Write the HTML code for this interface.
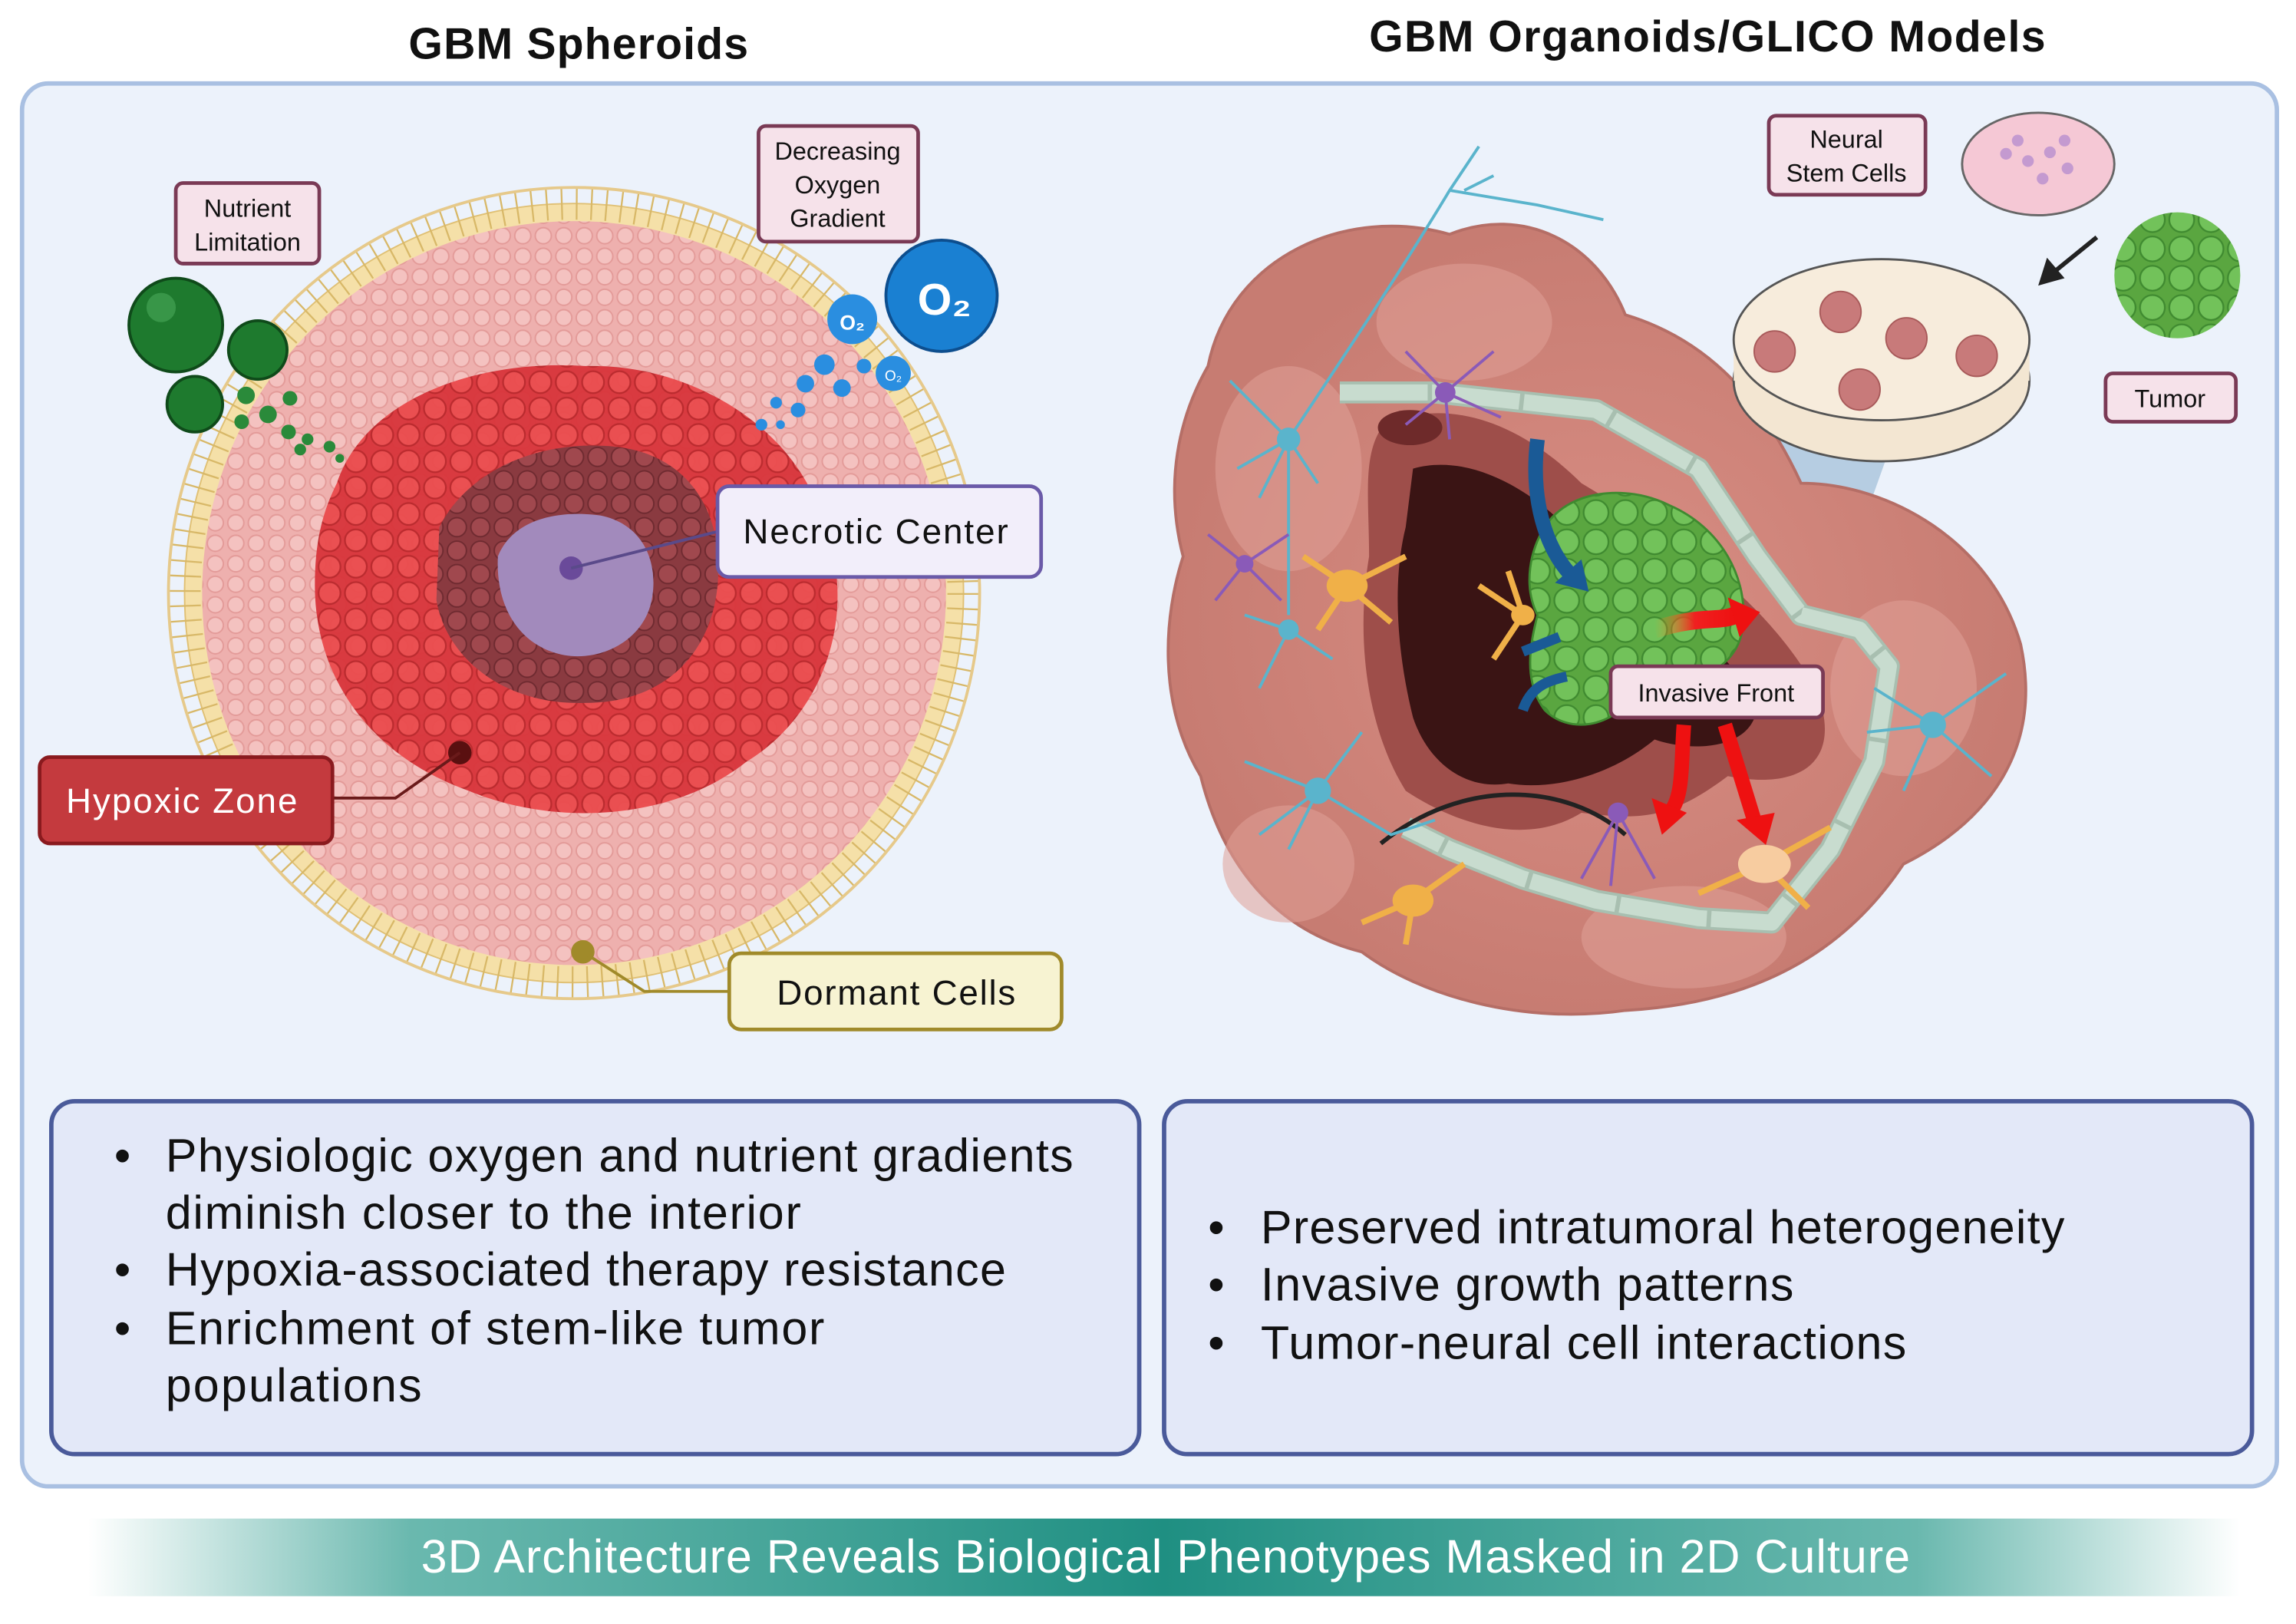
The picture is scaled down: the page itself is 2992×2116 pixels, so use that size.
<!DOCTYPE html>
<html><head><meta charset="utf-8"><style>html,body{margin:0;padding:0;background:#fff}svg{display:block}text{font-family:"Liberation Sans",sans-serif}</style></head>
<body>
<svg width="2992" height="2116" viewBox="0 0 1568 1109" xmlns="http://www.w3.org/2000/svg">
<defs>
<pattern id="cellsP" width="14" height="14" patternUnits="userSpaceOnUse"><rect width="14" height="14" fill="#eeb0ae"/><circle cx="7" cy="7" r="5.5" fill="#f4c2c0" stroke="#e39a98" stroke-width="1"/></pattern>
<pattern id="cellsR" width="18" height="18" patternUnits="userSpaceOnUse"><rect width="18" height="18" fill="#d8343a"/><circle cx="9" cy="9" r="7.5" fill="#ea4a4c" stroke="#b82428" stroke-width="1.2"/></pattern>
<pattern id="cellsD" width="16" height="16" patternUnits="userSpaceOnUse"><rect width="16" height="16" fill="#8a3a40"/><circle cx="8" cy="8" r="6.5" fill="#a0484e" stroke="#6e2a30" stroke-width="1"/></pattern>
<pattern id="cellsG" width="20" height="20" patternUnits="userSpaceOnUse"><rect width="20" height="20" fill="#5aa640"/><circle cx="10" cy="10" r="8.5" fill="#72c25a" stroke="#3f8a30" stroke-width="1.2"/></pattern>
<linearGradient id="ban" x1="0" x2="1"><stop offset="0" stop-color="#2a9a8c" stop-opacity="0"/><stop offset="0.15" stop-color="#2a9a8c" stop-opacity="0.7"/><stop offset="0.5" stop-color="#1f8f82"/><stop offset="0.85" stop-color="#2a9a8c" stop-opacity="0.7"/><stop offset="1" stop-color="#2a9a8c" stop-opacity="0"/></linearGradient>
<radialGradient id="blob"><stop offset="0" stop-color="#d98e84"/><stop offset="1" stop-color="#c77c72"/></radialGradient>
<linearGradient id="redar" x1="0" x2="1"><stop offset="0" stop-color="#f3a020" stop-opacity="0"/><stop offset="0.5" stop-color="#f02020"/><stop offset="1" stop-color="#ee1111"/></linearGradient>
</defs>
<rect width="1568" height="1109" fill="#fff"/>
<text x="395" y="40" font-size="30" font-weight="bold" text-anchor="middle" fill="#111" textLength="232">GBM Spheroids</text>
<text x="1166" y="35" font-size="30" font-weight="bold" text-anchor="middle" fill="#111" textLength="462">GBM Organoids/GLICO Models</text>
<rect x="15" y="57" width="1540" height="958" rx="18" fill="#ecf2fb" stroke="#a9c0e2" stroke-width="3"/>

<!-- Spheroid -->
<circle cx="392" cy="405" r="266" fill="#f5e0a8" stroke="#e0c074" stroke-width="1"/>
<circle cx="392" cy="405" r="266" fill="none" stroke="#d8b868" stroke-width="22" stroke-dasharray="1.2 9"/>
<circle cx="392" cy="405" r="277" fill="none" stroke="#e6c98a" stroke-width="2"/>
<circle cx="392" cy="405" r="254" fill="url(#cellsP)"/>
<path d="M230,330 C250,270 330,245 400,250 C470,248 540,290 560,350 C590,420 560,490 510,520 C460,560 380,565 320,540 C250,515 215,460 215,400 C215,370 220,350 230,330Z" fill="url(#cellsR)" opacity="0.95"/>
<path d="M300,360 C320,320 370,300 420,305 C470,310 495,350 490,400 C485,450 450,480 400,480 C345,482 305,450 298,410Z" fill="url(#cellsD)"/>
<path d="M340,380 C350,355 380,348 410,352 C440,358 450,385 445,410 C440,435 415,450 390,448 C360,445 338,420 340,380Z" fill="#a28abc"/>
<circle cx="390" cy="388" r="8" fill="#6a4a9a"/>
<line x1="390" y1="388" x2="490" y2="363" stroke="#5a4a8a" stroke-width="2"/>
<circle cx="314" cy="514" r="8" fill="#5a1010"/>
<path d="M314,514 L270,545 L227,545" stroke="#6a1a1a" stroke-width="2" fill="none"/>
<circle cx="398" cy="650" r="8" fill="#a08a2a"/>
<path d="M398,650 L440,677 L498,677" stroke="#a08a2a" stroke-width="2" fill="none"/>
<!-- nutrients -->
<circle cx="120" cy="222" r="32" fill="#1e7a2e" stroke="#0f4a1a" stroke-width="2"/>
<circle cx="110" cy="210" r="10" fill="#4aa85a" opacity="0.6"/>
<circle cx="176" cy="239" r="20" fill="#1e7a2e" stroke="#0f4a1a" stroke-width="2"/>
<circle cx="133" cy="276" r="19" fill="#1e7a2e" stroke="#0f4a1a" stroke-width="2"/>
<g fill="#2a8a3a"><circle cx="168" cy="270" r="6"/><circle cx="183" cy="283" r="6"/><circle cx="198" cy="272" r="5"/><circle cx="165" cy="288" r="5"/><circle cx="197" cy="295" r="5"/><circle cx="210" cy="300" r="4"/><circle cx="225" cy="305" r="4"/><circle cx="232" cy="313" r="3"/><circle cx="205" cy="307" r="4"/></g>
<!-- O2 -->
<circle cx="643" cy="202" r="38" fill="#1a80d2" stroke="#0d4e8e" stroke-width="2"/>
<text x="645" y="215" font-size="30" font-weight="bold" fill="#fff" text-anchor="middle">O₂</text>
<circle cx="582" cy="218" r="17" fill="#2a8ee0"/><text x="582" y="225" font-size="14" font-weight="bold" fill="#fff" text-anchor="middle">O₂</text>
<circle cx="610" cy="255" r="12" fill="#2a8ee0"/><text x="610" y="260" font-size="10" fill="#fff" text-anchor="middle">O₂</text>
<g fill="#2a8ee0"><circle cx="563" cy="249" r="7"/><circle cx="575" cy="265" r="6"/><circle cx="550" cy="262" r="6"/><circle cx="545" cy="280" r="5"/><circle cx="530" cy="275" r="4"/><circle cx="520" cy="290" r="4"/><circle cx="533" cy="290" r="3"/><circle cx="590" cy="250" r="5"/></g>
<!-- labels -->
<rect x="120" y="125" width="98" height="55" rx="5" fill="#f6e2ea" stroke="#7a3a55" stroke-width="2.5"/>
<text x="169" y="148" font-size="17" text-anchor="middle" fill="#111">Nutrient</text><text x="169" y="171" font-size="17" text-anchor="middle" fill="#111">Limitation</text>
<rect x="518" y="86" width="109" height="79" rx="5" fill="#f6e2ea" stroke="#7a3a55" stroke-width="2.5"/>
<text x="572" y="109" font-size="17" text-anchor="middle" fill="#111">Decreasing</text><text x="572" y="132" font-size="17" text-anchor="middle" fill="#111">Oxygen</text><text x="572" y="155" font-size="17" text-anchor="middle" fill="#111">Gradient</text>
<rect x="490" y="332" width="221" height="62" rx="8" fill="#f2eefa" stroke="#6a5aa8" stroke-width="2.5"/>
<text x="598" y="371" font-size="24" text-anchor="middle" fill="#111" textLength="181">Necrotic Center</text>
<rect x="27" y="517" width="200" height="59" rx="7" fill="#c43a3e" stroke="#8a1a1e" stroke-width="2.5"/>
<text x="124" y="555" font-size="24" text-anchor="middle" fill="#fff" textLength="158">Hypoxic Zone</text>
<rect x="498" y="651" width="227" height="52" rx="8" fill="#f7f3d2" stroke="#a08a2a" stroke-width="2.5"/>
<text x="612" y="686" font-size="24" text-anchor="middle" fill="#111" textLength="163">Dormant Cells</text>

<!-- Organoid -->
<path d="M1085,235 L1190,290 L1300,280 L1250,420 L1110,400Z" fill="#b6cde2"/>
<path d="M825,250 C840,175 920,140 990,160 C1040,140 1090,165 1110,215 C1160,230 1200,265 1230,330 C1290,330 1360,370 1380,440 C1395,510 1360,560 1300,590 C1260,650 1200,685 1110,690 C1040,700 970,680 930,650 C870,635 835,590 820,530 C790,480 795,420 808,380 C795,330 805,285 825,250Z" fill="url(#blob)" stroke="#b56e66" stroke-width="2"/>
<g fill="#e0a098" opacity="0.55"><ellipse cx="880" cy="320" rx="50" ry="70"/><ellipse cx="1000" cy="220" rx="60" ry="40"/><ellipse cx="1300" cy="470" rx="50" ry="60"/><ellipse cx="1150" cy="640" rx="70" ry="35"/><ellipse cx="880" cy="590" rx="45" ry="40"/></g>
<path d="M945,290 C990,270 1040,290 1080,330 C1130,360 1200,400 1240,470 C1260,520 1230,540 1180,530 C1140,560 1120,560 1080,555 C1040,580 990,560 960,540 C935,500 925,440 935,380 C935,340 930,310 945,290Z" fill="#9e4e4a"/>
<path d="M965,320 C1000,310 1040,330 1070,360 C1120,400 1170,430 1200,480 C1200,510 1160,515 1130,505 C1100,530 1060,540 1030,535 C1000,540 975,520 965,490 C955,450 950,400 960,360Z" fill="#3a1414"/>
<ellipse cx="963" cy="292" rx="22" ry="12" fill="#6e2a2a"/>
<!-- vessel -->
<path d="M915,268 L980,268 L1090,280 L1160,320 L1200,380 L1230,420 L1270,430 L1290,455 L1280,520 L1250,580 L1210,630 L1160,627 L1090,615 L1040,600 L990,580 L960,565" fill="none" stroke="#a8bfb0" stroke-width="15" stroke-linejoin="round"/>
<path d="M915,268 L980,268 L1090,280 L1160,320 L1200,380 L1230,420 L1270,430 L1290,455 L1280,520 L1250,580 L1210,630 L1160,627 L1090,615 L1040,600 L990,580 L960,565" fill="none" stroke="#c8dccf" stroke-width="11" stroke-linejoin="round" stroke-dasharray="60 3"/>
<!-- tumor -->
<path d="M1055,360 C1070,335 1110,330 1140,345 C1175,360 1195,395 1190,430 C1185,460 1150,470 1120,470 C1100,500 1070,500 1055,485 C1040,465 1045,440 1050,420 C1040,400 1045,375 1055,360Z" fill="url(#cellsG)" stroke="#3f8a30" stroke-width="1.5"/>
<!-- arrows -->
<path d="M1050,300 C1045,340 1055,375 1075,395" fill="none" stroke="#1a5a96" stroke-width="10"/>
<path d="M1062,398 L1085,404 L1080,382Z" fill="#1a5a96"/>
<path d="M1040,445 L1065,435" stroke="#1a5a96" stroke-width="7"/><path d="M1040,485 C1045,470 1055,465 1070,462" stroke="#1a5a96" stroke-width="7" fill="none"/>
<path d="M1130,430 C1160,420 1175,425 1185,420" stroke="url(#redar)" stroke-width="12" fill="none"/>
<path d="M1180,408 L1202,418 L1188,435Z" fill="#ee1111"/>
<path d="M1150,495 C1148,520 1150,545 1140,555" stroke="#ee1111" stroke-width="10" fill="none"/>
<path d="M1128,545 L1135,570 L1152,555Z" fill="#ee1111"/>
<path d="M1178,495 L1198,560" stroke="#ee1111" stroke-width="10"/>
<path d="M1186,560 L1206,577 L1212,555Z" fill="#ee1111"/>
<path d="M943,576 C1000,530 1070,535 1110,570" fill="none" stroke="#222" stroke-width="3"/>
<!-- neurons -->
<g stroke="#5ab4cc" stroke-width="2" fill="none">
<path d="M880,300 C920,240 960,180 990,130 L1010,100 M990,130 L1050,140 L1095,150 M1000,130 L1020,120"/>
<path d="M880,300 L840,260 M880,300 L845,320 M880,300 L900,330 M880,300 L860,340"/>
<path d="M880,300 L880,420 M880,430 L850,420 M880,430 L910,450 M880,430 L860,470"/>
<path d="M900,540 L850,520 M900,540 L860,570 M900,540 L880,580 M900,540 L950,570 L980,560 M900,540 L930,500"/>
<path d="M1320,495 L1280,470 M1320,495 L1370,460 M1320,495 L1360,530 M1320,495 L1300,540 M1320,495 L1275,500"/>
</g>
<g fill="#5ab4cc"><circle cx="880" cy="300" r="8"/><circle cx="880" cy="430" r="7"/><circle cx="900" cy="540" r="9"/><circle cx="1320" cy="495" r="9"/></g>
<g stroke="#8a5ab8" stroke-width="2" fill="none"><path d="M987,268 L960,240 M987,268 L1020,240 M987,268 L1025,285 M987,268 L960,290 M987,268 L990,300"/><path d="M850,385 L825,365 M850,385 L880,365 M850,385 L830,410 M850,385 L875,410"/><path d="M1105,555 L1080,600 M1105,555 L1130,600 M1105,555 L1100,605"/></g>
<g fill="#8a5ab8"><circle cx="987" cy="268" r="7"/><circle cx="850" cy="385" r="6"/><circle cx="1105" cy="555" r="7"/></g>
<g stroke="#f0b048" stroke-width="4" fill="none"><path d="M920,400 L890,380 M920,400 L960,380 M920,400 L900,430 M920,400 L950,425"/><path d="M965,615 L930,630 M965,615 L1000,590 M965,615 L960,645"/><path d="M1205,590 L1160,610 M1205,590 L1250,565 M1205,590 L1235,620"/><path d="M1040,420 L1010,400 M1040,420 L1020,450 M1040,420 L1030,390"/></g>
<g fill="#f0b048"><ellipse cx="920" cy="400" rx="14" ry="11"/><ellipse cx="965" cy="615" rx="14" ry="11"/><ellipse cx="1205" cy="590" rx="18" ry="13" fill="#f7cca0"/><ellipse cx="1040" cy="420" rx="8" ry="7"/></g>
<!-- petri -->
<ellipse cx="1285" cy="260" rx="101" ry="55" fill="#f3e6d2" stroke="#555" stroke-width="1.5"/>
<rect x="1184" y="232" width="202" height="28" fill="#f3e6d2"/>
<ellipse cx="1285" cy="232" rx="101" ry="55" fill="#f7ecdc" stroke="#555" stroke-width="1.5"/>
<g fill="#c87a7a" stroke="#a85a5a"><circle cx="1257" cy="213" r="14"/><circle cx="1212" cy="240" r="14"/><circle cx="1302" cy="231" r="14"/><circle cx="1350" cy="243" r="14"/><circle cx="1270" cy="266" r="14"/></g>
<ellipse cx="1392" cy="112" rx="52" ry="35" fill="#f5c8d5" stroke="#666" stroke-width="1.5"/>
<g fill="#c49ad0"><circle cx="1370" cy="105" r="4"/><circle cx="1385" cy="110" r="4"/><circle cx="1400" cy="104" r="4"/><circle cx="1412" cy="115" r="4"/><circle cx="1395" cy="122" r="4"/><circle cx="1378" cy="96" r="4"/><circle cx="1410" cy="96" r="4"/></g>
<circle cx="1487" cy="188" r="43" fill="url(#cellsG)"/>
<path d="M1432,162 L1400,188" stroke="#222" stroke-width="3"/><path d="M1392,195 L1398,176 L1410,190Z" fill="#222"/>
<rect x="1208" y="79" width="107" height="54" rx="5" fill="#f6e2ea" stroke="#7a3a55" stroke-width="2.5"/>
<text x="1261" y="101" font-size="17" text-anchor="middle" fill="#111">Neural</text><text x="1261" y="124" font-size="17" text-anchor="middle" fill="#111">Stem Cells</text>
<rect x="1438" y="255" width="89" height="33" rx="5" fill="#f6e2ea" stroke="#7a3a55" stroke-width="2.5"/>
<text x="1482" y="278" font-size="17" text-anchor="middle" fill="#111">Tumor</text>
<rect x="1100" y="455" width="145" height="35" rx="5" fill="#f6e2ea" stroke="#7a3a55" stroke-width="2.5"/>
<text x="1172" y="479" font-size="17" text-anchor="middle" fill="#111">Invasive Front</text>

<!-- bottom boxes -->
<rect x="35" y="752" width="743" height="241" rx="16" fill="#e3e8f8" stroke="#4a5a9a" stroke-width="3"/>
<rect x="795" y="752" width="743" height="241" rx="16" fill="#e3e8f8" stroke="#4a5a9a" stroke-width="3"/>
<g font-size="32" fill="#111">
<text x="78" y="800">•</text><text x="113" y="800" textLength="620">Physiologic oxygen and nutrient gradients</text>
<text x="113" y="839" textLength="434">diminish closer to the interior</text>
<text x="78" y="878">•</text><text x="113" y="878" textLength="574">Hypoxia-associated therapy resistance</text>
<text x="78" y="918">•</text><text x="113" y="918" textLength="450">Enrichment of stem-like tumor</text>
<text x="113" y="957" textLength="175">populations</text>
<text x="825" y="849">•</text><text x="861" y="849" textLength="549">Preserved intratumoral heterogeneity</text>
<text x="825" y="888">•</text><text x="861" y="888" textLength="364">Invasive growth patterns</text>
<text x="825" y="928">•</text><text x="861" y="928" textLength="441">Tumor-neural cell interactions</text>
</g>
<rect x="60" y="1037" width="1470" height="53" fill="url(#ban)"/>
<text x="796" y="1074" font-size="32" text-anchor="middle" fill="#fff" textLength="1017">3D Architecture Reveals Biological Phenotypes Masked in 2D Culture</text>
</svg>
</body></html>
